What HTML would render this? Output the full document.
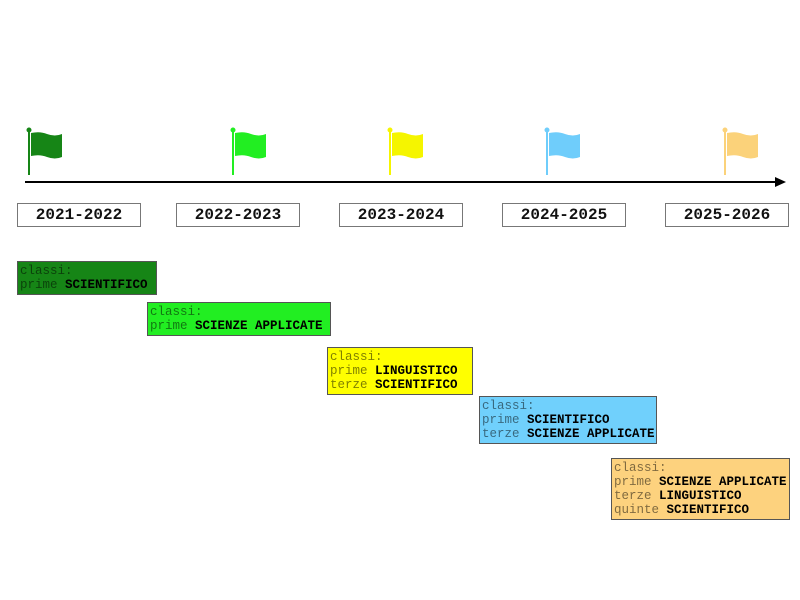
<!DOCTYPE html>
<html><head><style>
body{margin:0;width:800px;height:600px;background:#fff;position:relative;overflow:hidden;font-family:"Liberation Mono",monospace}
.yr{position:absolute;top:203px;height:22px;width:122px;border:1px solid #777;box-sizing:content-box;text-align:center;font:bold 16px/22px "Liberation Mono",monospace;color:#111}
.bx{position:absolute;border:1px solid #555;font-size:12.5px;line-height:14px;padding:2px 2px;color:rgba(0,0,0,0.5);white-space:pre}
.bx b{color:#000}
</style></head><body>
<svg width="800" height="600" style="position:absolute;left:0;top:0">
<line x1="25" y1="182" x2="777" y2="182" stroke="#000" stroke-width="2"/>
<polygon points="775,177 786,182 775,187" fill="#000"/>
<g fill="#168516" stroke="#168516"><line x1="29" y1="131" x2="29" y2="175" stroke-width="2"/><circle cx="29" cy="130" r="2"/><path d="M31 133 Q40 131 47 134 Q55 137 62 134 L62 157 Q55 160 47 157 Q40 154 31 156Z" stroke="none"/></g>
<g fill="#22ee22" stroke="#22ee22"><line x1="233" y1="131" x2="233" y2="175" stroke-width="2"/><circle cx="233" cy="130" r="2"/><path d="M235 133 Q244 131 251 134 Q259 137 266 134 L266 157 Q259 160 251 157 Q244 154 235 156Z" stroke="none"/></g>
<g fill="#f5f500" stroke="#f5f500"><line x1="390" y1="131" x2="390" y2="175" stroke-width="2"/><circle cx="390" cy="130" r="2"/><path d="M392 133 Q401 131 408 134 Q416 137 423 134 L423 157 Q416 160 408 157 Q401 154 392 156Z" stroke="none"/></g>
<g fill="#6fcdfb" stroke="#6fcdfb"><line x1="547" y1="131" x2="547" y2="175" stroke-width="2"/><circle cx="547" cy="130" r="2"/><path d="M549 133 Q558 131 565 134 Q573 137 580 134 L580 157 Q573 160 565 157 Q558 154 549 156Z" stroke="none"/></g>
<g fill="#fbd27a" stroke="#fbd27a"><line x1="725" y1="131" x2="725" y2="175" stroke-width="2"/><circle cx="725" cy="130" r="2"/><path d="M727 133 Q736 131 743 134 Q751 137 758 134 L758 157 Q751 160 743 157 Q736 154 727 156Z" stroke="none"/></g>
</svg>
<div class="yr" style="left:17px">2021-2022</div>
<div class="yr" style="left:176px">2022-2023</div>
<div class="yr" style="left:339px">2023-2024</div>
<div class="yr" style="left:502px">2024-2025</div>
<div class="yr" style="left:665px">2025-2026</div>
<div class="bx" style="left:17px;top:261px;width:134px;height:28px;background:#168516">classi:
prime <b>SCIENTIFICO</b></div>
<div class="bx" style="left:147px;top:302px;width:178px;height:28px;background:#22ee22">classi:
prime <b>SCIENZE APPLICATE</b></div>
<div class="bx" style="left:327px;top:347px;width:140px;height:42px;background:#ffff00">classi:
prime <b>LINGUISTICO</b>
terze <b>SCIENTIFICO</b></div>
<div class="bx" style="left:479px;top:396px;width:172px;height:42px;background:#70d0fc">classi:
prime <b>SCIENTIFICO</b>
terze <b>SCIENZE APPLICATE</b></div>
<div class="bx" style="left:611px;top:458px;width:173px;height:56px;background:#fdd27e">classi:
prime <b>SCIENZE APPLICATE</b>
terze <b>LINGUISTICO</b>
quinte <b>SCIENTIFICO</b></div>
</body></html>
